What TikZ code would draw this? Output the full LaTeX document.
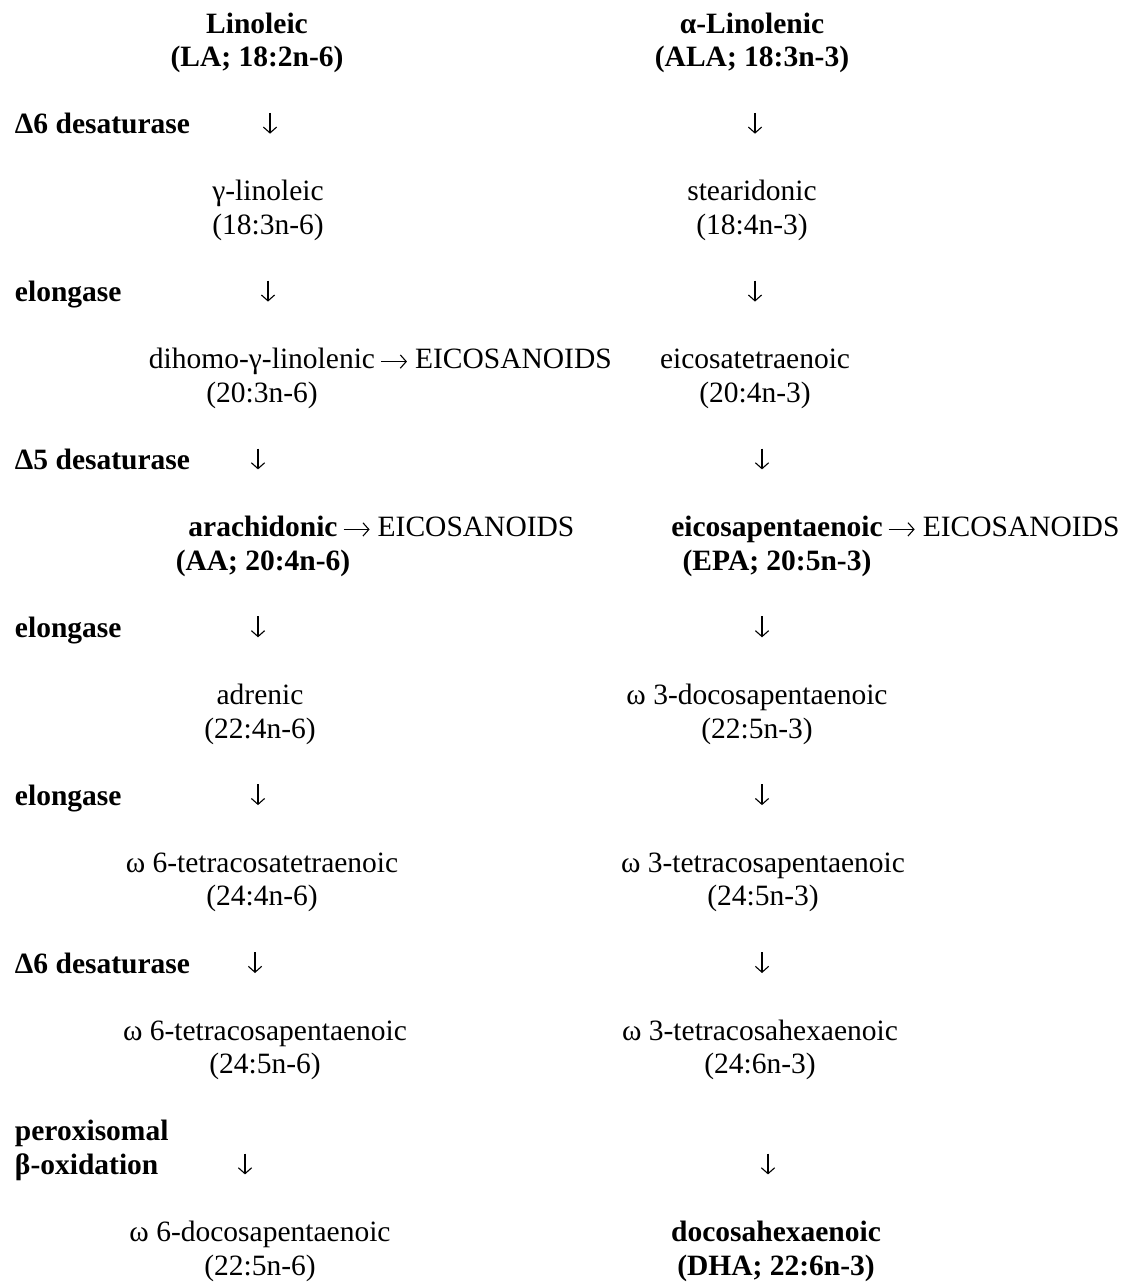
\documentclass[tikz,border=0pt]{standalone}
\usepackage{fontspec}
\setmainfont{Liberation Serif}
\usepackage{tikz}
\usetikzlibrary{arrows.meta, calc}
\newcommand{\pathfont}{\fontsize{12pt}{13.66pt}\selectfont}
\tikzset{
  acid/.style={
    inner sep=0pt, outer sep=0pt, align=center, anchor=base,
    font=\pathfont
  },
  keyacid/.style={acid, font=\pathfont\bfseries},
  enzyme/.style={
    inner sep=0pt, outer sep=0pt, align=left, anchor=base west,
    font=\pathfont\bfseries
  },
  sink/.style={inner sep=0pt, outer sep=0pt, anchor=base west, font=\pathfont},
  conv/.style={-{Straight Barb[length=2.4pt,width=5.4pt]}, line width=0.45pt, black},
  sideconv/.style={conv, shorten <=2.4pt, shorten >=3.3pt}
}

\begin{document}
\begin{tikzpicture}[x=0.4068pt, y=-0.4068pt]
  \useasboundingbox (0,0) rectangle (1127,1287);

  % parent acids (node base = baseline of the lower line)
  \node[keyacid] (la) at (257,66.6) {Linoleic\\(LA; 18:2n-6)};
  \node[keyacid] (ala) at (752,66.6) {α-Linolenic\\(ALA; 18:3n-3)};

  \node[enzyme] (desat1) at (15,133.7) {Δ6 desaturase};
  \coordinate (s1l) at (270,133.7);
  \coordinate (s1r) at (755,133.7);
  \draw[conv] ([yshift=8.5pt]s1l) -- (s1l);
  \draw[conv] ([yshift=8.5pt]s1r) -- (s1r);

  \node[acid] (gla) at (268,234.4) {γ-linoleic\\(18:3n-6)};
  \node[acid] (sda) at (752,234.4) {stearidonic\\(18:4n-3)};

  \node[enzyme] (elong1) at (15,301.6) {elongase};
  \coordinate (s2l) at (268,301.6);
  \coordinate (s2r) at (755,301.6);
  \draw[conv] ([yshift=8.5pt]s2l) -- (s2l);
  \draw[conv] ([yshift=8.5pt]s2r) -- (s2r);

  \node[acid] (dgla) at (262,402.3) {dihomo-γ-linolenic\\(20:3n-6)};
  \node[sink] (eico1) at ($(dgla.base -| dgla.east)+(16.3pt,13.66pt)$) {EICOSANOIDS};
  \draw[sideconv] ($(eico1.west)+(-16.3pt,-1pt)$) -- ($(eico1.west)+(0,-1pt)$);
  \node[acid] (eta) at (755,402.3) {eicosatetraenoic\\(20:4n-3)};

  \node[enzyme] (desat2) at (15,469.4) {Δ5 desaturase};
  \coordinate (s3l) at (258,469.4);
  \coordinate (s3r) at (762,469.4);
  \draw[conv] ([yshift=8.5pt]s3l) -- (s3l);
  \draw[conv] ([yshift=8.5pt]s3r) -- (s3r);

  \node[keyacid] (aa) at (263,570.1) {arachidonic\\(AA; 20:4n-6)};
  \node[sink] (eico2) at (377.7,536.6) {EICOSANOIDS};
  \draw[sideconv] ($(eico2.west)+(-16.3pt,-1pt)$) -- ($(eico2.west)+(0,-1pt)$);
  \node[keyacid] (epa) at (777,570.1) {eicosapentaenoic\\(EPA; 20:5n-3)};
  \node[sink] (eico3) at ($(epa.base -| epa.east)+(16.3pt,13.66pt)$) {EICOSANOIDS};
  \draw[sideconv] ($(eico3.west)+(-16.3pt,-1pt)$) -- ($(eico3.west)+(0,-1pt)$);

  \node[enzyme] (elong2) at (15,637.3) {elongase};
  \coordinate (s4l) at (258,637.3);
  \coordinate (s4r) at (762,637.3);
  \draw[conv] ([yshift=8.5pt]s4l) -- (s4l);
  \draw[conv] ([yshift=8.5pt]s4r) -- (s4r);

  \node[acid] (adr) at (260,738.0) {adrenic\\(22:4n-6)};
  \node[acid] (dpa3) at (757,738.0) {ω 3-docosapentaenoic\\(22:5n-3)};

  \node[enzyme] (elong3) at (15,805.1) {elongase};
  \coordinate (s5l) at (258,805.1);
  \coordinate (s5r) at (762,805.1);
  \draw[conv] ([yshift=8.5pt]s5l) -- (s5l);
  \draw[conv] ([yshift=8.5pt]s5r) -- (s5r);

  \node[acid] (tta) at (262,905.8) {ω 6-tetracosatetraenoic\\(24:4n-6)};
  \node[acid] (tpa3) at (763,905.8) {ω 3-tetracosapentaenoic\\(24:5n-3)};

  \node[enzyme] (desat3) at (15,973.0) {Δ6 desaturase};
  \coordinate (s6l) at (255,973.0);
  \coordinate (s6r) at (762,973.0);
  \draw[conv] ([yshift=8.5pt]s6l) -- (s6l);
  \draw[conv] ([yshift=8.5pt]s6r) -- (s6r);

  \node[acid] (tpa6) at (265,1073.7) {ω 6-tetracosapentaenoic\\(24:5n-6)};
  \node[acid] (tha) at (760,1073.7) {ω 3-tetracosahexaenoic\\(24:6n-3)};

  \node[enzyme] (perox) at (15,1174.4) {peroxisomal\\β-oxidation};
  \coordinate (s7l) at (245,1174.4);
  \coordinate (s7r) at (768,1174.4);
  \draw[conv] ([yshift=8.5pt]s7l) -- (s7l);
  \draw[conv] ([yshift=8.5pt]s7r) -- (s7r);

  % end products
  \node[acid] (dpa6) at (260,1275.1) {ω 6-docosapentaenoic\\(22:5n-6)};
  \node[keyacid] (dha) at (776,1275.1) {docosahexaenoic\\(DHA; 22:6n-3)};
\end{tikzpicture}
\end{document}
